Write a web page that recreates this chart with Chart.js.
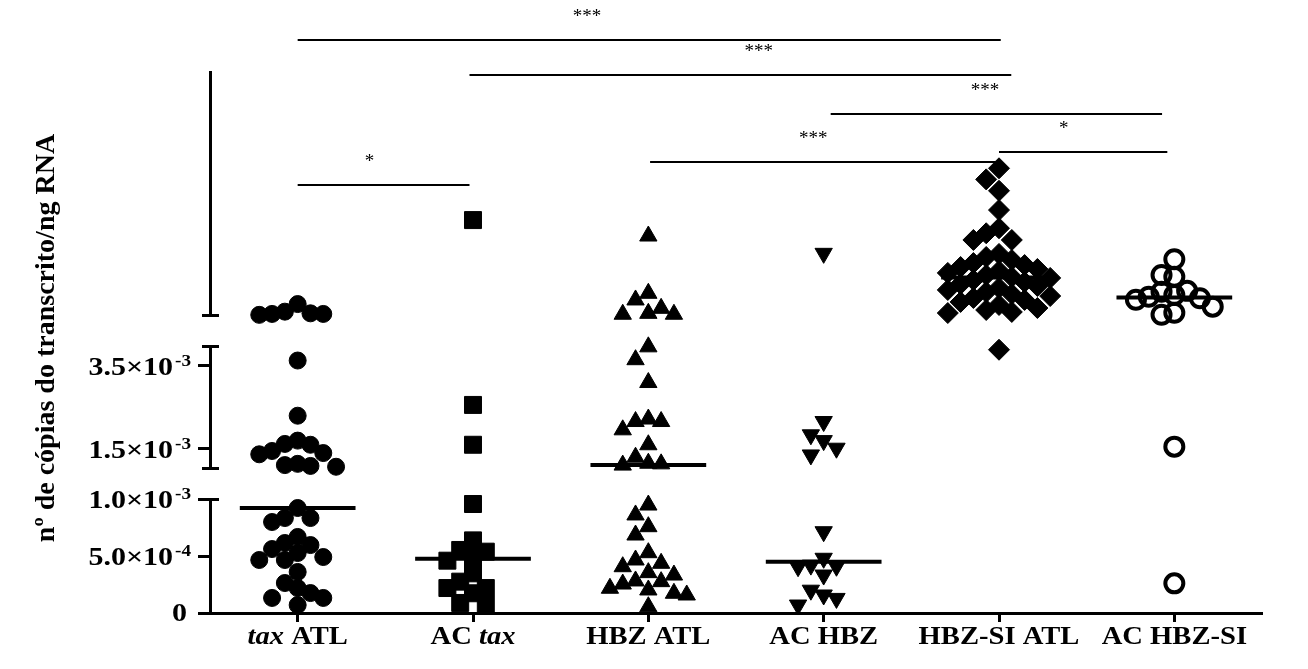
<!DOCTYPE html>
<html>
<head>
<meta charset="utf-8">
<script src="https://cdn.jsdelivr.net/npm/chart.js@4.4.1/dist/chart.umd.min.js"></script>
<style>
  html, body { margin: 0; padding: 0; background: #fff; }
  #wrap { position: relative; width: 1308px; height: 669px; }
</style>
</head>
<body>
<div id="wrap"><canvas id="chart"></canvas></div>
<script>
/* ---------- data (copies / ng RNA) ---------- */
const groups = ["tax ATL", "AC tax", "HBZ ATL", "AC HBZ", "HBZ-SI ATL", "AC HBZ-SI"];
const italicWords = ["tax"];

const taxAtl = [
  0.00472, 0.00422, 0.00411, 0.00407, 0.00407, 0.00401,
  3.63e-3, 2.30e-3, 1.70e-3, 1.62e-3, 1.60e-3, 1.45e-3, 1.40e-3, 1.37e-3, 1.14e-3, 1.11e-3, 1.09e-3, 1.07e-3,
  0.921e-3, 0.833e-3, 0.833e-3, 0.798e-3, 0.667e-3, 0.614e-3, 0.596e-3, 0.561e-3, 0.526e-3, 0.491e-3,
  0.465e-3, 0.465e-3, 0.360e-3, 0.263e-3, 0.219e-3, 0.175e-3, 0.132e-3, 0.132e-3, 0.070e-3
];
const acTax = [
  0.01025, 2.56e-3, 1.60e-3, 0.956e-3, 0.637e-3, 0.553e-3, 0.538e-3, 0.494e-3,
  0.459e-3, 0.348e-3, 0.275e-3, 0.219e-3, 0.219e-3, 0.173e-3, 0.088e-3, 0.070e-3
];
const hbzAtl = [
  0.0092, 0.00543, 0.00499, 0.00444, 0.00411, 0.00405, 0.00405,
  3.96e-3, 3.65e-3, 3.10e-3, 2.22e-3, 2.16e-3, 2.16e-3, 1.96e-3, 1.60e-3, 1.30e-3, 1.155e-3, 1.14e-3, 1.11e-3,
  0.947e-3, 0.86e-3, 0.757e-3, 0.684e-3, 0.529e-3, 0.465e-3, 0.436e-3, 0.406e-3, 0.354e-3,
  0.333e-3, 0.281e-3, 0.275e-3, 0.254e-3, 0.217e-3, 0.202e-3, 0.173e-3, 0.158e-3, 0.055e-3
];
const acHbz = [
  0.00806, 2.16e-3, 1.84e-3, 1.70e-3, 1.517e-3, 1.355e-3,
  0.713e-3, 0.48e-3, 0.42e-3, 0.41e-3, 0.406e-3, 0.333e-3, 0.20e-3, 0.158e-3, 0.128e-3, 0.070e-3
];
const hbzSiAtl = [
  0.01366, 0.01293, 0.01218, 0.01091, 0.00971, 0.00938, 0.00894, 0.00894,
  0.00802, 0.00782, 0.00762, 0.00742, 0.00729, 0.00716, 0.00703, 0.00690, 0.00677, 0.00663,
  0.00650, 0.00644,
  0.00630, 0.00617, 0.00604, 0.00591, 0.00578, 0.00565, 0.00551, 0.00538, 0.00525,
  0.00512, 0.00499, 0.00486, 0.00466, 0.00446, 0.00433, 0.00420, 0.00413,
  3.89e-3
];
const acHbzSi = [
  0.00767, 0.00663, 0.00652, 0.00559, 0.00553, 0.00532, 0.00520,
  0.00510, 0.00500, 0.00455, 0.00415, 0.00402, 1.555e-3, 0.26e-3
];
const groupValues = [taxAtl, acTax, hbzAtl, acHbz, hbzSiAtl, acHbzSi];

// tick labels on the two lower pieces of the broken axis (top piece has none)
const lowTicks = [0, 5.0e-4, 1.0e-3];
const midTicks = [1.5e-3, 3.5e-3];

// significance brackets: from / to (group index), height (top-axis units), mark
const bracketFrom  = [0, 0.98, 3.04, 2.01, 4.0, 0];
const bracketTo    = [4.01, 4.07, 4.93, 4.0, 4.96, 0.98];
const bracketLevel = [0.0221, 0.0198, 0.01723, 0.01407, 0.01473, 0.01256];
const bracketMark  = ["***", "***", "***", "***", "*", "*"];
const bracketMarkAt = [1.65, 2.63, 3.92, 2.94, 4.37, 0.41];

const yTitle = "nº de cópias do transcrito/ng RNA";

/* ---------- broken y axis: three stacked pieces ---------- */
const segments = [
  { id: "yLow",  min: 0,       max: 1.0e-3,  weight: 114, ticks: lowTicks },
  { id: "yMid",  min: 1.04e-3, max: 3.98e-3, weight: 122, ticks: midTicks },
  { id: "yHigh", min: 4.0e-3,  max: 2.0e-2,  weight: 243, ticks: [] }
];
const GAP_WEIGHT = 31;
const SERIF = '"Liberation Serif", "Times New Roman", serif';
const TICK_STRETCH = 1.2;  // the figure's lettering is drawn wide
const LABEL_STRETCH = 1.1;

function segmentOf(v) {
  if (v <= segments[0].max) return "yLow";
  if (v <= segments[1].max) return "yMid";
  return "yHigh";
}

function median(arr) {
  const s = [...arr].sort((a, b) => a - b);
  const m = s.length >> 1;
  return s.length % 2 ? s[m] : (s[m - 1] + s[m]) / 2;
}

const markers = [
  { pointStyle: "circle",   radius: 8.5,  rotation: 0,   fill: "#000", border: 1 },
  { pointStyle: "rect",     radius: 12,   rotation: 0,   fill: "#000", border: 1 },
  { pointStyle: "triangle", radius: 10,   rotation: 0,   fill: "#000", border: 1 },
  { pointStyle: "triangle", radius: 10,   rotation: 180, fill: "#000", border: 1 },
  { pointStyle: "rectRot",  radius: 10.5, rotation: 0,   fill: "#000", border: 1 },
  { pointStyle: "circle",   radius: 9,    rotation: 0,   fill: "rgba(0,0,0,0)", border: 4 }
];

/* ---------- datasets ---------- */
const datasets = [];
groupValues.forEach((vals, gi) => {
  const m = markers[gi];
  segments.forEach(seg => {
    const pts = vals.filter(v => segmentOf(v) === seg.id).map(v => ({ x: gi, y: v }));
    if (!pts.length) return;
    datasets.push({
      type: "scatter",
      group: gi,
      yAxisID: seg.id,
      data: pts,
      pointStyle: m.pointStyle,
      pointRadius: m.radius,
      pointHoverRadius: m.radius,
      pointRotation: m.rotation,
      pointBackgroundColor: m.fill,
      pointBorderColor: "#000",
      pointBorderWidth: m.border,
      clip: false
    });
  });
  const med = median(vals);
  datasets.push({
    type: "line",
    yAxisID: segmentOf(med),
    data: [{ x: gi - 0.33, y: med }, { x: gi + 0.33, y: med }],
    borderColor: "#000",
    borderWidth: 4,
    pointRadius: 0,
    order: -1,
    clip: false
  });
});

/* ---------- scales ---------- */
const scales = {
  x: {
    type: "linear",
    min: -0.5,
    max: 5.5,
    afterBuildTicks: s => { s.ticks = groups.map((g, i) => ({ value: i })); },
    afterFit: s => { s.height = 9; },
    ticks: { display: false },
    grid: { display: true, drawOnChartArea: false, tickLength: 9, tickWidth: 3, tickColor: "#000" },
    border: { color: "#000", width: 3 }
  }
};

function yPiece(seg) {
  return {
    type: "linear",
    position: "left",
    stack: "y",
    stackWeight: seg.weight,
    min: seg.min,
    max: seg.max,
    afterBuildTicks: s => { s.ticks = seg.ticks.map(v => ({ value: v })); },
    afterFit: s => { s.width = 12; },
    ticks: { display: false },
    grid: { display: true, drawOnChartArea: false, tickLength: 12, tickWidth: 3, tickColor: "#000" },
    border: { color: "#000", width: 3 }
  };
}
function yGap() {
  return {
    type: "linear",
    position: "left",
    stack: "y",
    stackWeight: GAP_WEIGHT,
    afterFit: s => { s.width = 12; },
    ticks: { display: false },
    grid: { display: false, drawTicks: false },
    border: { display: false }
  };
}
scales.yLow = yPiece(segments[0]);
scales.gap1 = yGap();
scales.yMid = yPiece(segments[1]);
scales.gap2 = yGap();
scales.yHigh = yPiece(segments[2]);

/* ---------- decorations: axis caps, labels, brackets ---------- */
function wideText(ctx, text, x, y, k) {
  ctx.save();
  ctx.translate(x, y);
  ctx.scale(k, 1);
  ctx.fillText(text, 0, 0);
  ctx.restore();
}
function fontOf(size, italic) {
  return (italic ? "italic " : "") + "bold " + size + "px " + SERIF;
}

const decorations = {
  id: "decorations",
  afterDraw(chart) {
    const ctx = chart.ctx;
    const xs = chart.scales.x;
    ctx.save();
    ctx.fillStyle = "#000";
    ctx.strokeStyle = "#000";

    // end caps of the broken axis pieces
    ctx.lineWidth = 3;
    const caps = [["yLow", "top"], ["yMid", "top"], ["yMid", "bottom"], ["yHigh", "bottom"]];
    caps.forEach(([id, end]) => {
      const s = chart.scales[id];
      const ax = s.right;
      const y = Math.round(s[end]) + 0.5;
      ctx.beginPath();
      ctx.moveTo(ax - 8, y);
      ctx.lineTo(ax + 9, y);
      ctx.stroke();
    });

    // y tick labels, n.n×10^e
    ctx.textBaseline = "middle";
    ctx.textAlign = "left";
    const K = TICK_STRETCH;
    ["yLow", "yMid"].forEach(id => {
      const s = chart.scales[id];
      const right = s.right - 19;
      s.ticks.forEach(t => {
        const y = s.getPixelForValue(t.value);
        if (t.value === 0) {
          ctx.font = fontOf(25);
          const w0 = ctx.measureText("0").width * K;
          wideText(ctx, "0", right - 4 - w0, y + 2, K);
          return;
        }
        const e = Math.floor(Math.log10(t.value) + 1e-9);
        const main = (t.value / Math.pow(10, e)).toFixed(1) + "×10";
        const exp = "-" + Math.abs(e);
        ctx.font = fontOf(16);
        const we = ctx.measureText(exp).width * K;
        ctx.font = fontOf(25);
        const wm = ctx.measureText(main).width * K;
        wideText(ctx, main, right - we - wm - 2, y + 3, K);
        ctx.font = fontOf(16);
        wideText(ctx, exp, right - we, y - 4, K);
      });
    });

    // x category labels (tax in italics)
    const L = LABEL_STRETCH;
    groups.forEach((g, i) => {
      const parts = g.split(" ").map((w, k) => ({ t: (k ? " " : "") + w, italic: italicWords.includes(w) }));
      let total = 0;
      parts.forEach(p => { ctx.font = fontOf(26, p.italic); p.w = ctx.measureText(p.t).width * L; total += p.w; });
      let x = xs.getPixelForValue(i) - total / 2;
      parts.forEach(p => { ctx.font = fontOf(26, p.italic); wideText(ctx, p.t, x, 637, L); x += p.w; });
    });

    // y title
    ctx.save();
    ctx.translate(47, 338);
    ctx.rotate(-Math.PI / 2);
    ctx.textAlign = "center";
    ctx.font = fontOf(28);
    ctx.fillText(yTitle, 0, 0);
    ctx.restore();

    // significance brackets
    const yh = chart.scales.yHigh;
    ctx.lineWidth = 2;
    ctx.textAlign = "center";
    ctx.font = "19px " + SERIF;
    bracketLevel.forEach((lvl, i) => {
      const y = Math.round(yh.getPixelForValue(lvl));
      ctx.beginPath();
      ctx.moveTo(xs.getPixelForValue(bracketFrom[i]), y);
      ctx.lineTo(xs.getPixelForValue(bracketTo[i]), y);
      ctx.stroke();
      ctx.fillText(bracketMark[i], xs.getPixelForValue(bracketMarkAt[i]), y - 23);
    });
    ctx.restore();
  }
};

/* ---------- chart ---------- */
const chart = new Chart(document.getElementById("chart"), {
  type: "scatter",
  data: { datasets },
  options: {
    responsive: true,
    maintainAspectRatio: false,
    animation: false,
    layout: { padding: { left: 198, right: 46, top: 72, bottom: 47 } },
    plugins: { legend: { display: false }, tooltip: { enabled: false } },
    scales
  },
  plugins: [decorations]
});

/* ---------- spread points sideways (column scatter) ---------- */
const SLOT_PX = 12.8;
const SAME_SLOT_PX = 16;
function applySwarm(chart) {
  const xs = chart.scales.x;
  const unit = SLOT_PX / (xs.getPixelForValue(1) - xs.getPixelForValue(0));
  groups.forEach((g, gi) => {
    const pts = [];
    chart.data.datasets.forEach(ds => {
      if (ds.type !== "scatter" || ds.group !== gi) return;
      const s = chart.scales[ds.yAxisID];
      ds.data.forEach((p, k) => pts.push({ ds, k, py: s.getPixelForValue(p.y) }));
    });
    pts.sort((a, b) => a.py - b.py);
    const placed = [];
    pts.forEach(p => {
      for (let n = 0; n < 40; n++) {
        const slot = n === 0 ? 0 : (n % 2 ? -Math.ceil(n / 2) : n / 2);
        if (!placed.some(q => q.slot === slot && Math.abs(q.py - p.py) < SAME_SLOT_PX)) {
          p.slot = slot;
          placed.push(p);
          break;
        }
      }
    });
    const byDs = new Map();
    pts.forEach(p => {
      if (!byDs.has(p.ds)) byDs.set(p.ds, p.ds.data.map(d => ({ x: d.x, y: d.y })));
      byDs.get(p.ds)[p.k].x = gi + p.slot * unit;
    });
    byDs.forEach((data, ds) => { ds.data = data; });
  });
  chart.update("none");
}
applySwarm(chart);
</script>
</body>
</html>
